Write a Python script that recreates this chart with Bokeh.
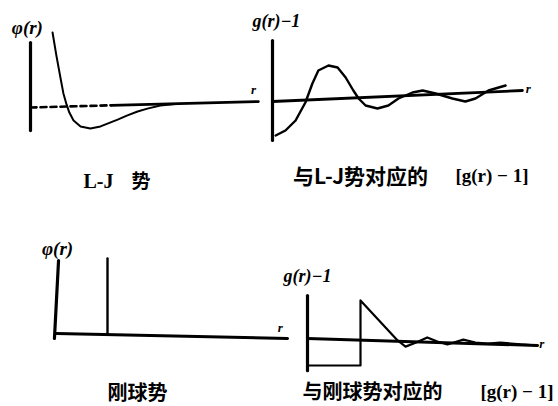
from bokeh.plotting import figure
from bokeh.models import Range1d, Label
from bokeh.embed import file_html
from bokeh.resources import INLINE

# ---------------- data (panel units) ----------------
# Panel 1: Lennard-Jones potential phi(r)   (r in sigma, phi in epsilon)
lj_r   = [0.63, 0.74, 0.86, 0.94, 1.03, 1.11, 1.23, 1.43, 1.71, 2.00, 2.20, 2.49, 2.77, 3.06, 3.34, 3.71, 4.14]
lj_phi = [3.41, 2.36, 1.32, 0.64, 0.14, -0.23, -0.59, -0.86, -0.95, -0.86, -0.73, -0.55, -0.36, -0.18, -0.05, 0.09, 0.16]
lj_axis_r = [0.0, 2.3, 6.51]
lj_axis_y = [0.0, 0.10, 0.27]
lj_vaxis = [2.95, -1.05]

# Panel 2: g(r)-1 for L-J potential
ljg_r = [0.09, 0.37, 0.66, 0.94, 1.14, 1.31, 1.60, 1.86, 2.09, 2.31, 2.46, 2.66, 3.00, 3.31, 3.60,
         4.00, 4.29, 4.66, 5.14, 5.51, 5.80, 6.17, 6.66]
ljg_h = [-1.36, -1.16, -0.76, -0.04, 0.72, 1.24, 1.44, 1.36, 0.96, 0.44, 0.12, -0.16, -0.28, -0.16, 0.12,
         0.36, 0.44, 0.32, 0.12, 0.0, 0.12, 0.44, 0.64]
ljg_axis_r = [0.0, 7.14]
ljg_axis_y = [0.0, 0.44]
ljg_vaxis = [2.44, -1.56]

# Panel 3: hard-sphere potential
hs_wall_r = [1.0, 1.0]
hs_wall_y = [0.0, 3.0]
hs_axis_r = [0.0, 4.53]
hs_axis_y = [0.0, -0.2]
hs_vaxis_r = [0.04, -0.04]
hs_vaxis_y = [2.92, -0.2]

# Panel 4: g(r)-1 for hard spheres
hsg_r = [0.0, 1.0, 1.0, 1.70, 1.85, 2.05, 2.26, 2.45, 2.64, 2.94, 3.17, 3.40, 3.64, 4.02, 4.34]
hsg_h = [-1.0, -1.0, 1.41, -0.07, -0.30, -0.15, 0.04, -0.11, -0.22, -0.04, -0.15, -0.19, -0.15, -0.22, -0.26]
hsg_axis_r = [0.0, 4.34]
hsg_axis_y = [0.0, -0.26]
hsg_vaxis = [1.59, -1.19]

captions = ["L-J", "势", "与L-J势对应的", "[g(r) − 1]", "刚球势", "与刚球势对应的", "[g(r) − 1]"]

# ---------------- layout ----------------
W, H = 558, 406
p = figure(width=W, height=H, x_range=Range1d(0, W), y_range=Range1d(H, 0),
           x_axis_type=None, y_axis_type=None, output_backend="svg",
           toolbar_location=None, min_border=0, outline_line_color=None,
           background_fill_color="white", border_fill_color="white")
p.grid.visible = False

# panel frames: origin (px from top-left) and px per unit
panels = {
    "p1": (30, 107, 35, 22),
    "p2": (272, 101, 35, 25),
    "p3": (56, 333, 51, 25),
    "p4": (307, 338, 53, 27),
}
for k, (ox, oy, sx, sy) in panels.items():
    p.extra_x_ranges[k] = Range1d(-ox / sx, (W - ox) / sx)
    p.extra_y_ranges[k] = Range1d(-(H - oy) / sy, oy / sy)

def ln(xs, ys, k, w=2.2, dash="solid"):
    p.line(xs, ys, x_range_name=k, y_range_name=k, line_color="black", line_width=w,
           line_dash=dash, line_cap="round", line_join="round")

def lab(x, y, k, text, size="15px", style="bold italic", font="Liberation Serif",
        align="center", baseline="middle"):
    p.add_layout(Label(x=x, y=y, x_range_name=k, y_range_name=k, text=text,
                       text_font=font, text_font_size=size, text_font_style=style,
                       text_align=align, text_baseline=baseline, text_color="black"))

# Panel 1
ln([0, 0], lj_vaxis, "p1", w=3.2)
ln(lj_axis_r[:2], lj_axis_y[:2], "p1", w=2.6, dash="6 4")
ln(lj_axis_r[1:], lj_axis_y[1:], "p1", w=2.8)
ln(lj_r, lj_phi, "p1", w=2.0)
lab(-0.09, 3.64, "p1", "φ(r)", size="19px")
lab(6.37, 0.82, "p1", "r", size="13px")

# Panel 2
ln([0, 0], ljg_vaxis, "p2", w=3.2)
ln(ljg_axis_r, ljg_axis_y, "p2", w=2.8)
ln(ljg_r, ljg_h, "p2", w=2.4)
lab(0.11, 3.24, "p2", "g(r)−1", size="18px")
lab(7.31, 0.52, "p2", "r", size="13px")

# Panel 3
ln(hs_vaxis_r, hs_vaxis_y, "p3", w=3.2)
ln(hs_axis_r, hs_axis_y, "p3", w=3.0)
ln(hs_wall_r, hs_wall_y, "p3", w=2.4)
lab(0.02, 3.4, "p3", "φ(r)", size="19px")
lab(4.39, 0.24, "p3", "r", size="13px")

# Panel 4
ln([0, 0], hsg_vaxis, "p4", w=3.2)
ln(hsg_axis_r, hsg_axis_y, "p4", w=3.0)
ln(hsg_r, hsg_h, "p4", w=2.2)
lab(0.0, 2.33, "p4", "g(r)−1", size="18px")
lab(4.42, -0.19, "p4", "r", size="13px")

# captions (px from top-left)
def cap(x, y, text, font, align="left", size="19px", style="bold"):
    p.add_layout(Label(x=x, y=y, text=text, text_font=font, text_font_size=size,
                       text_font_style=style, text_align=align, text_baseline="middle",
                       text_color="black"))

cjk = "Noto Sans CJK SC"
serif = "Liberation Serif"
cap(83, 180, captions[0], serif, size="20px")
cap(131, 179, captions[1], cjk)
cap(360, 174, captions[2], cjk, align="center", size="21px")
cap(528, 175, captions[3], serif, align="right", size="19px")
cap(137, 391, captions[4], cjk, align="center", size="20px")
cap(302, 390, captions[5], cjk, size="20px")
cap(553, 391, captions[6], serif, align="right", size="19px")

open("out.html", "w").write(file_html(p, INLINE))
